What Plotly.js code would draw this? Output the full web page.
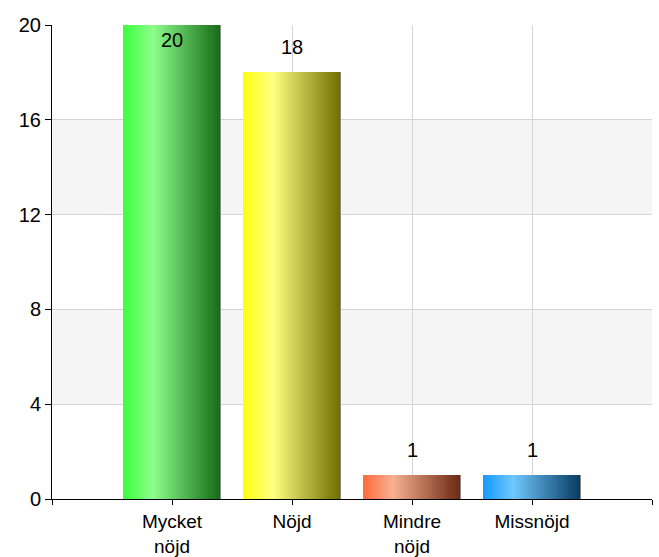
<!DOCTYPE html>
<html>
<head>
<meta charset="utf-8">
<script src="https://cdn.plot.ly/plotly-3.0.1.min.js"></script>
<style>html,body{margin:0;padding:0;background:#fff;}#chart{width:659px;height:557px;}</style>
</head>
<body>
<div id="chart"></div>
<script>
// Data
const categories = ["Mycket<br>nöjd", "Nöjd", "Mindre<br>nöjd", "Missnöjd"];
const values = [20, 18, 1, 1];
const yTicks = [0, 4, 8, 12, 16, 20];
const yMax = 20;

// Gradient stops per bar: [left, highlight, right]
const gradients = [
  ["#3cff3c", "#8cff8c", "#166a16"],
  ["#ffff10", "#ffff80", "#6e6e00"],
  ["#ff6a3c", "#f8b090", "#6a2812"],
  ["#1599ff", "#70c8ff", "#083a60"]
];

function hex2rgb(h){return [parseInt(h.slice(1,3),16),parseInt(h.slice(3,5),16),parseInt(h.slice(5,7),16)];}
function mix(a,b,t){const A=hex2rgb(a),B=hex2rgb(b);return 'rgb('+A.map((v,i)=>Math.round(v+(B[i]-v)*t)).join(',')+')';}
function gradColor(g,t){const hp=0.3;return t<hp?mix(g[0],g[1],t/hp):mix(g[1],g[2],(t-hp)/(1-hp));}

const FONT = 'Liberation Sans, Arial, sans-serif';
const xs = categories.map((c,i)=>i+1);
const barW = 0.81;
const N = 48;
const traces = [];
for(let k=0;k<N;k++){
  const t=(k+0.5)/N;
  traces.push({
    type:'bar', x:xs, y:values,
    width: barW/N*1.15,
    offset: -barW/2 + k*barW/N,
    marker:{color: gradients.map(g=>gradColor(g,t)), line:{width:0}},
    hoverinfo:'skip', showlegend:false
  });
}
// right-edge shade
traces.push({
  type:'bar', x:xs, y:values, width:0.014, offset: barW/2-0.007,
  marker:{color:'#8a8a8a', line:{width:0}}, hoverinfo:'skip', showlegend:false
});

// value labels
const annotations = values.map((v,i)=>({
  x: xs[i], y: v, xref:'x', yref:'y',
  text: String(v), showarrow:false,
  yanchor: v>=yMax ? 'top' : 'bottom',
  yshift: v>=yMax ? -2 : 12,
  font:{family:FONT, size:20, color:'#000'}
}));

const shapes = [[4,8],[12,16]].map(b=>({
  type:'rect', xref:'paper', x0:0, x1:1, yref:'y', y0:b[0], y1:b[1],
  fillcolor:'#f5f5f5', line:{width:0}, layer:'below'
}));

const layout = {
  width:659, height:557,
  margin:{l:52, r:7, t:25, b:58, pad:0},
  paper_bgcolor:'#fff', plot_bgcolor:'#fff',
  barmode:'overlay', bargap:0,
  font:{family:FONT, size:20, color:'#000'},
  showlegend:false,
  shapes: shapes,
  annotations: annotations,
  xaxis:{
    type:'linear', range:[0, categories.length+1],
    tickvals:[0].concat(xs, [categories.length+1]),
    ticktext:[''].concat(categories, ['']),
    ticks:'outside', ticklen:5, tickcolor:'#000', tickwidth:1,
    showgrid:true, gridcolor:'#d4d4d4', gridwidth:1,
    showline:true, linecolor:'#000', linewidth:1,
    zeroline:false, fixedrange:true,
    tickfont:{size:19}
  },
  yaxis:{
    range:[0,yMax], tickvals:yTicks, ticktext:yTicks.map(String),
    ticks:'outside', ticklen:6, tickcolor:'#000', tickwidth:1,
    showgrid:true, gridcolor:'#d4d4d4', gridwidth:1,
    showline:true, linecolor:'#000', linewidth:1,
    zeroline:false, fixedrange:true,
    tickfont:{size:20}
  }
};

Plotly.newPlot('chart', traces, layout, {staticPlot:true, displayModeBar:false});
</script>
</body>
</html>
